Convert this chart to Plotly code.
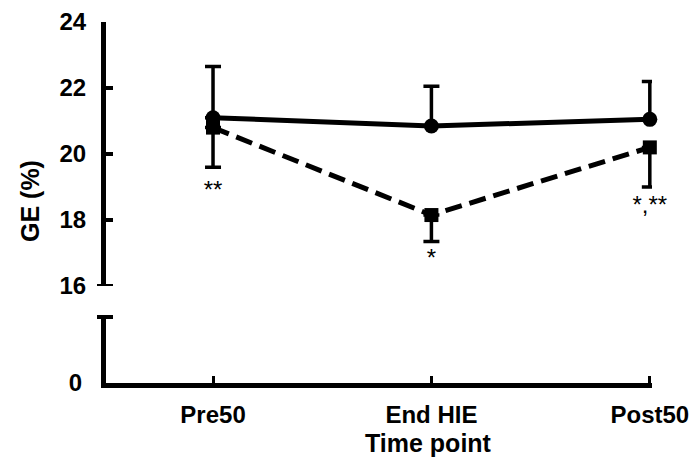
import plotly.graph_objects as go

categories = ["Pre50", "End HIE", "Post50"]
x_pos = [0, 1, 2]

solid_mean = [21.1, 20.85, 21.05]
solid_err_up = [1.55, 1.2, 1.15]

dashed_mean = [20.8, 18.15, 20.2]
dashed_err_down = [1.2, 0.8, 1.2]

sig_labels = ["**", "*", "*,**"]
sig_y = [18.85, 16.8, 18.4]

y_ticks_upper = [16, 18, 20, 22, 24]
y_ticks_lower = [0]

FONT = "Liberation Sans"
BLACK = "#000000"
TICK_SIZE = 24
TITLE_SIZE = 25

fig = go.Figure()

fig.add_trace(go.Scatter(
    x=x_pos, y=solid_mean, mode="lines+markers",
    line=dict(color=BLACK, width=5),
    marker=dict(symbol="circle", size=15, color=BLACK),
    error_y=dict(type="data", symmetric=False, array=solid_err_up,
                 arrayminus=[0, 0, 0], color=BLACK, thickness=3.5, width=8),
    yaxis="y", showlegend=False, cliponaxis=False,
))

fig.add_trace(go.Scatter(
    x=x_pos, y=dashed_mean, mode="lines+markers",
    line=dict(color=BLACK, width=5, dash="17px,8px"),
    marker=dict(symbol="square", size=14, color=BLACK),
    error_y=dict(type="data", symmetric=False, array=[0, 0, 0],
                 arrayminus=dashed_err_down, color=BLACK, thickness=3.5, width=8),
    yaxis="y", showlegend=False, cliponaxis=False,
))

fig.add_trace(go.Scatter(
    x=x_pos, y=sig_y, mode="text", text=sig_labels,
    textfont=dict(family=FONT, size=24, color=BLACK),
    yaxis="y", showlegend=False, hoverinfo="skip", cliponaxis=False,
))

# lower (broken) axis dummy trace
fig.add_trace(go.Scatter(x=[None], y=[None], yaxis="y2", showlegend=False))

upper_bottom = (383 - 286) / 361
lower_top = (383 - 317) / 361

fig.update_layout(
    width=691, height=459,
    margin=dict(l=106, r=39, t=22, b=76, autoexpand=False),
    paper_bgcolor="white", plot_bgcolor="white",
    font=dict(family=FONT, color=BLACK),
    xaxis=dict(
        range=[-0.49, 2.01], tickvals=x_pos, ticktext=categories,
        showline=True, linecolor=BLACK, linewidth=5,
        ticks="inside", ticklen=7, tickwidth=3, tickcolor=BLACK,
        tickfont=dict(family=FONT, size=TICK_SIZE, color=BLACK, weight="bold"),
        ticklabelstandoff=6, automargin=False,
        showgrid=False, zeroline=False, anchor="y2",
    ),
    yaxis=dict(
        domain=[upper_bottom, 1], range=[16, 24], tickvals=y_ticks_upper,
        showline=True, linecolor=BLACK, linewidth=5,
        ticks="inside", ticklen=7, tickwidth=4, tickcolor=BLACK,
        tickfont=dict(family=FONT, size=TICK_SIZE, color=BLACK, weight="bold"),
        ticklabelstandoff=10, automargin=False,
        showgrid=False, zeroline=False,
    ),
    yaxis2=dict(
        domain=[0, lower_top], range=[0, 1], tickvals=y_ticks_lower,
        showline=True, linecolor=BLACK, linewidth=5,
        ticks="", tickfont=dict(family=FONT, size=TICK_SIZE, color=BLACK, weight="bold"),
        ticklabelstandoff=14, automargin=False,
        showgrid=False, zeroline=False,
    ),
    annotations=[
        dict(text="<b>GE (%)</b>", textangle=-90, xref="paper", yref="paper",
             x=(30 - 106) / 546, y=(383 - 201) / 361, showarrow=False,
             xanchor="center", yanchor="middle",
             font=dict(family=FONT, size=TITLE_SIZE, color=BLACK)),
        dict(text="<b>Time point</b>", xref="paper", yref="paper",
             x=(428 - 106) / 546, y=(383 - 443) / 361, showarrow=False,
             xanchor="center", yanchor="middle",
             font=dict(family=FONT, size=TITLE_SIZE, color=BLACK)),
    ],
    shapes=[
        dict(type="line", xref="paper", yref="y", x0=-9 / 546, x1=7 / 546,
             y0=16, y1=16, line=dict(color=BLACK, width=4)),
        dict(type="line", xref="paper", yref="y2 domain", x0=-9 / 546, x1=7 / 546,
             y0=1, y1=1, line=dict(color=BLACK, width=4)),
    ],
)

fig.write_html("out.html")
